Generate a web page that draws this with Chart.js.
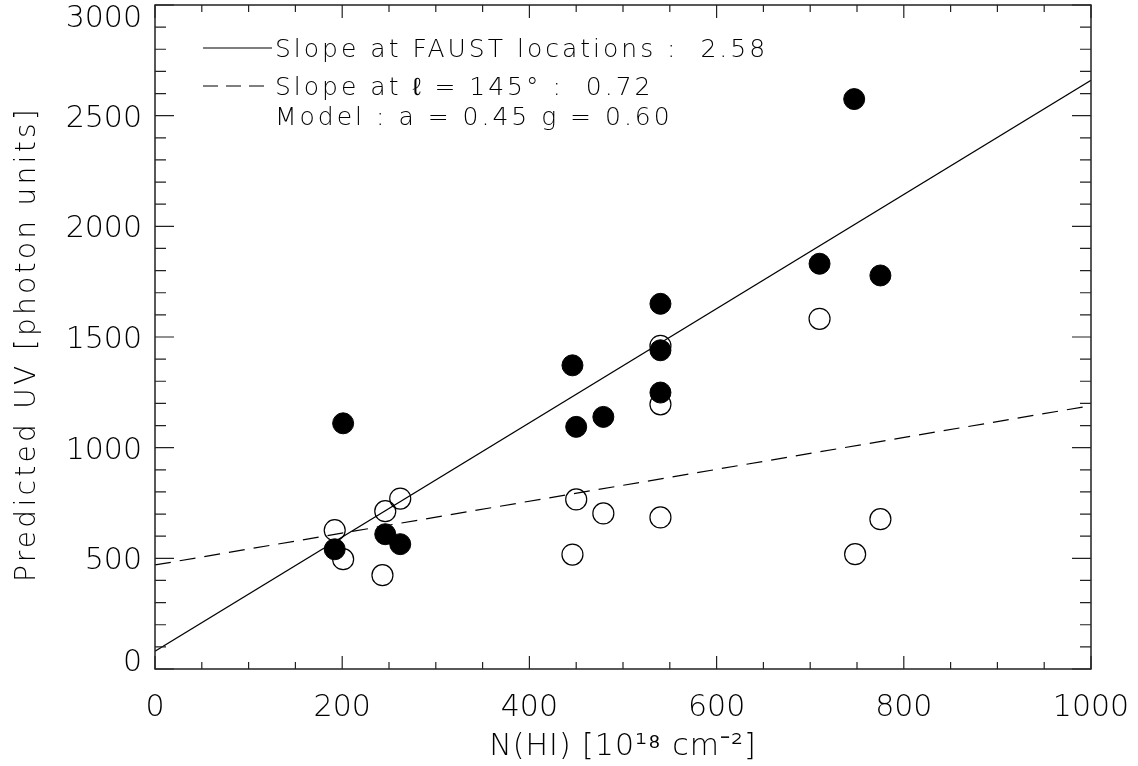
<!DOCTYPE html>
<html>
<head>
<meta charset="utf-8">
<script src="https://cdn.jsdelivr.net/npm/chart.js@4.4.1/dist/chart.umd.min.js"></script>
<style>
html, body { margin: 0; padding: 0; background: #fff; }
#c { display: block; }
</style>
</head>
<body>
<canvas id="c" width="1138" height="766"></canvas>
<script>
// points: N(HI) in 1e18 cm^-2, predicted UV in photon units
var nhiOpen   = [192, 201, 243, 246, 262, 446, 450, 479, 540, 540, 540, 710, 748, 775];
var uvOpen    = [627, 496, 424, 713, 770, 517, 766, 703, 685, 1196, 1460, 1582, 519, 677];
var nhiFilled = [192, 201, 246, 262, 446, 450, 479, 540, 540, 540, 710, 747, 775];
var uvFilled  = [541, 1110, 609, 564, 1372, 1094, 1139, 1650, 1440, 1249, 1831, 2575, 1778];

// the two fitted lines (end points)
var fitX     = [0, 1000];
var faustFit = [80, 2660];
var l145Fit  = [470, 1190];

var xTicks = [0, 200, 400, 600, 800, 1000];
var yTicks = [0, 500, 1000, 1500, 2000, 2500, 3000];

var legendText = [
    'Slope at FAUST locations :  2.58',
    'Slope at \u2113 = 145\u00b0 :  0.72',
    'Model : a = 0.45 g = 0.60'
];
var xTitle = 'N(HI) [10\u00b9\u2078 cm\u207b\u00b2]';
var yTitle = 'Predicted UV [photon units]';

var FONT = '"DejaVu Sans", sans-serif';

function pts(xs, ys) {
    return xs.map(function(x, i) { return {x: x, y: ys[i]}; });
}

var frame = {
    id: 'frame',
    afterDatasetsDraw: function(chart) {
        var ctx = chart.ctx, a = chart.chartArea;
        var xs = chart.scales.x, ys = chart.scales.y;
        ctx.save();

        // box + ticks on all four sides, pointing inward
        ctx.strokeStyle = '#222';
        ctx.lineWidth = 1.5;
        ctx.strokeRect(a.left, a.top, a.right - a.left, a.bottom - a.top);
        ctx.lineWidth = 1.2;
        ctx.beginPath();
        for (var v = xs.min; v <= xs.max; v += 50) {
            var px = xs.getPixelForValue(v);
            var len = v % 200 === 0 ? 13 : 7;
            ctx.moveTo(px, a.bottom); ctx.lineTo(px, a.bottom - len);
            ctx.moveTo(px, a.top);    ctx.lineTo(px, a.top + len);
        }
        for (var w = ys.min; w <= ys.max; w += 100) {
            var py = ys.getPixelForValue(w);
            var len2 = w % 500 === 0 ? 19 : 11;
            ctx.moveTo(a.left, py);  ctx.lineTo(a.left + len2, py);
            ctx.moveTo(a.right, py); ctx.lineTo(a.right - len2, py);
        }
        ctx.stroke();

        ctx.fillStyle = '#000';

        // y tick labels, kept inside the axis range like the original
        ctx.font = '200 30px ' + FONT;
        ctx.textAlign = 'right';
        ctx.textBaseline = 'alphabetic';
        ys.ticks.forEach(function(t) {
            var cy = ys.getPixelForValue(t.value);
            cy = Math.min(Math.max(cy, a.top + 11), a.bottom - 9);
            ctx.fillText(String(t.value), a.left - 13, cy + 11);
        });

        // axis titles
        ctx.textAlign = 'center';
        ctx.letterSpacing = '1px';
        ctx.fillText(xTitle, (a.left + a.right) / 2, 755);

        ctx.save();
        ctx.translate(35, 344);
        ctx.rotate(-Math.PI / 2);
        ctx.font = '200 28px ' + FONT;
        ctx.letterSpacing = '3.3px';
        ctx.fillText(yTitle, 0, 0);
        ctx.restore();

        // legend block
        ctx.font = '200 25px ' + FONT;
        ctx.letterSpacing = '3px';
        ctx.textAlign = 'left';
        var rows = [48, 86, 116];
        legendText.forEach(function(s, i) {
            ctx.fillText(s, 275, rows[i] + 9);
        });
        ctx.letterSpacing = '0px';
        ctx.strokeStyle = '#000';
        ctx.lineWidth = 1.2;
        ctx.beginPath();
        ctx.moveTo(203, rows[0]); ctx.lineTo(272, rows[0]);
        ctx.stroke();
        ctx.setLineDash([15, 8]);
        ctx.beginPath();
        ctx.moveTo(203, rows[1]); ctx.lineTo(272, rows[1]);
        ctx.stroke();

        ctx.restore();
    }
};

new Chart(document.getElementById('c').getContext('2d'), {
    type: 'scatter',
    data: {
        datasets: [
            {
                label: 'filled',
                data: pts(nhiFilled, uvFilled),
                backgroundColor: '#000',
                borderColor: '#000',
                borderWidth: 1,
                pointRadius: 10.5,
                order: 0
            },
            {
                label: 'open',
                data: pts(nhiOpen, uvOpen),
                backgroundColor: 'rgba(0,0,0,0)',
                borderColor: '#000',
                borderWidth: 1.2,
                pointRadius: 10.5,
                order: 1
            },
            {
                label: 'FAUST',
                data: pts(fitX, faustFit),
                showLine: true,
                borderColor: '#000',
                borderWidth: 1.2,
                pointRadius: 0,
                order: 2
            },
            {
                label: 'l145',
                data: pts(fitX, l145Fit),
                showLine: true,
                borderColor: '#000',
                borderWidth: 1.2,
                borderDash: [16, 9],
                pointRadius: 0,
                order: 3
            }
        ]
    },
    options: {
        responsive: false,
        animation: false,
        devicePixelRatio: 1,
        layout: {
            autoPadding: false,
            padding: { top: 5, right: 47, left: 0, bottom: 0 }
        },
        plugins: {
            legend: { display: false },
            tooltip: { enabled: false }
        },
        scales: {
            x: {
                type: 'linear',
                min: 0,
                max: 1000,
                grid: { display: false },
                border: { display: false },
                afterBuildTicks: function(s) {
                    s.ticks = xTicks.map(function(v) { return {value: v}; });
                },
                afterFit: function(s) {
                    s.height = 97;
                    s.paddingLeft = 0;
                    s.paddingRight = 0;
                },
                ticks: {
                    color: '#000',
                    padding: 13,
                    maxRotation: 0,
                    font: { family: FONT, size: 30, weight: 200 },
                    callback: function(v) { return String(v); }
                }
            },
            y: {
                type: 'linear',
                min: 0,
                max: 3000,
                grid: { display: false },
                border: { display: false },
                afterBuildTicks: function(s) {
                    s.ticks = yTicks.map(function(v) { return {value: v}; });
                },
                afterFit: function(s) {
                    s.width = 155;
                    s.paddingTop = 0;
                    s.paddingBottom = 0;
                },
                ticks: { display: false }
            }
        }
    },
    plugins: [frame]
});
</script>
</body>
</html>
